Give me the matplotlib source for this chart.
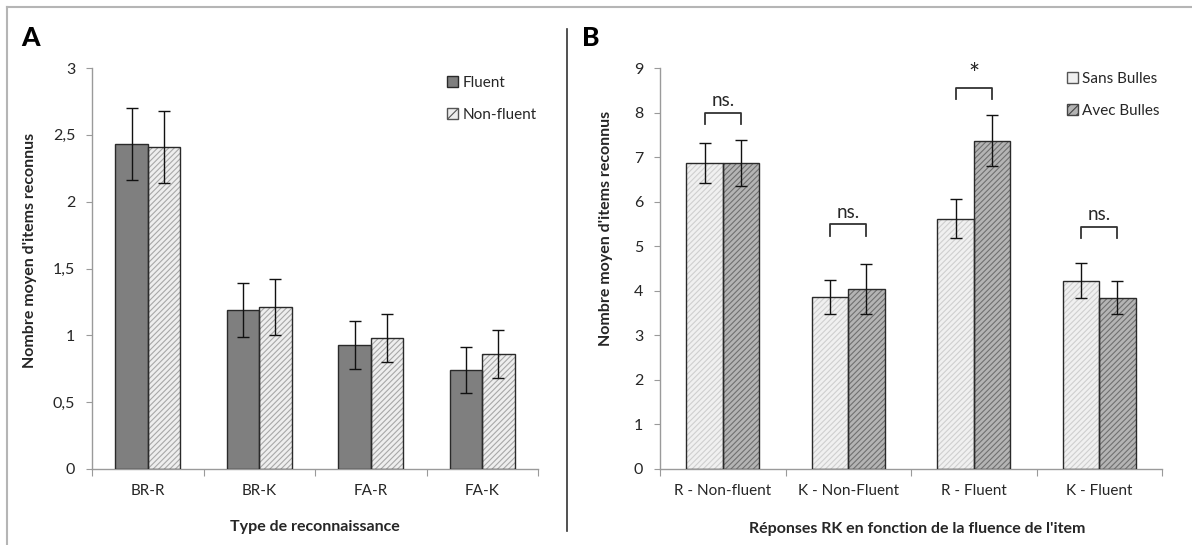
import numpy as np
import matplotlib
matplotlib.use("Agg")
from matplotlib import pyplot as plt
from matplotlib.patches import Patch
from matplotlib.lines import Line2D

plt.rcParams['font.family'] = ['Lato', 'DejaVu Sans']

# Panel A data
cats_a = ["BR-R", "BR-K", "FA-R", "FA-K"]
fluent = [2.43, 1.19, 0.93, 0.74]
fluent_err = [0.27, 0.20, 0.18, 0.17]
nonfluent = [2.41, 1.21, 0.98, 0.86]
nonfluent_err = [0.27, 0.21, 0.18, 0.18]
yticks_a = [0, 0.5, 1, 1.5, 2, 2.5, 3]
ylabels_a = ["0", "0,5", "1", "1,5", "2", "2,5", "3"]

# Panel B data
cats_b = ["R - Non-fluent", "K - Non-Fluent", "R - Fluent", "K - Fluent"]
sans = [6.87, 3.87, 5.62, 4.23]
sans_err = [0.45, 0.38, 0.44, 0.40]
avec = [6.87, 4.04, 7.37, 3.84]
avec_err = [0.52, 0.55, 0.57, 0.37]
sig_labels = ["ns.", "ns.", "*", "ns."]
sig_heights = [8.0, 5.49, 8.56, 5.43]

W, H = 1192, 545
fig = plt.figure(figsize=(W / 100, H / 100), dpi=100)

BW = 0.29
OFF = BW / 2
EDGE = "#2a2a2a"
SPINE = "#9a9a9a"
TXT = "#262626"


def hatched_bars(ax, x, vals, face, hcolor, hatch):
    # hatch colour comes from edgecolor, so draw the outline separately
    plt.rcParams['hatch.linewidth'] = 0.8
    ax.bar(x, vals, BW, color=face, edgecolor=hcolor, hatch=hatch, linewidth=0, zorder=2)
    ax.bar(x, vals, BW, facecolor="none", edgecolor=EDGE, linewidth=1.0, zorder=3)


def style_axis(ax, ncat, cats):
    ax.set_xlim(-0.5, ncat - 0.5)
    for s in ["top", "right"]:
        ax.spines[s].set_visible(False)
    for s in ["left", "bottom"]:
        ax.spines[s].set_color(SPINE)
        ax.spines[s].set_linewidth(1.0)
    ax.set_xticks(np.arange(-0.5, ncat, 1.0))
    ax.set_xticklabels([])
    ax.set_xticks(np.arange(ncat), minor=True)
    ax.set_xticklabels(cats, minor=True, fontsize=11, color=TXT)
    ax.tick_params(axis="x", which="major", direction="out", length=5, color=SPINE)
    ax.tick_params(axis="x", which="minor", length=0, pad=11)
    ax.tick_params(axis="y", direction="out", length=4, color=SPINE, pad=8,
                   labelsize=11.5, labelcolor=TXT)


def errbars(ax, x, vals, err):
    ax.errorbar(x, vals, yerr=err, fmt="none", ecolor="#111111", elinewidth=1.0,
                capsize=4, capthick=1.0, zorder=4)


# ---- Panel A ----
axA = fig.add_axes([92 / W, 1 - 469 / H, 446 / W, 401 / H])
x = np.arange(len(cats_a))
axA.bar(x - OFF, fluent, BW, color="#7f7f7f", edgecolor=EDGE, linewidth=1.0, zorder=3)
hatched_bars(axA, x + OFF, nonfluent, "#eeeeee", "#a8a8a8", "//////")
errbars(axA, x - OFF, fluent, fluent_err)
errbars(axA, x + OFF, nonfluent, nonfluent_err)
axA.set_ylim(0, 3)
axA.set_yticks(yticks_a)
axA.set_yticklabels(ylabels_a)
style_axis(axA, len(cats_a), cats_a)
axA.set_ylabel("Nombre moyen d'items reconnus", fontsize=11.5, fontweight="bold", color=TXT)
axA.yaxis.set_label_coords(-0.123, 0.546)
axA.set_xlabel("Type de reconnaissance", fontsize=11.5, fontweight="bold", color=TXT)
axA.xaxis.set_label_coords(0.5, -0.127)

plt.rcParams['hatch.linewidth'] = 0.8
hA = [Patch(facecolor="#7f7f7f", edgecolor=EDGE, linewidth=1.0),
      Patch(facecolor="#eeeeee", edgecolor="#555555", hatch="///", linewidth=1.0)]
axA.legend(hA, ["Fluent", "Non-fluent"], loc="upper left",
           bbox_to_anchor=(447 / W, 1 - 76 / H), bbox_transform=fig.transFigure,
           frameon=False, fontsize=11, handlelength=0.7, handleheight=0.7,
           handletextpad=0.3, labelspacing=1.15, borderpad=0, borderaxespad=0,
           labelcolor=TXT)

# ---- Panel B ----
axB = fig.add_axes([660 / W, 1 - 469 / H, 502 / W, 401 / H])
x = np.arange(len(cats_b))
hatched_bars(axB, x - OFF, sans, "#f0f0f0", "#cfcfcf", "//////")
hatched_bars(axB, x + OFF, avec, "#b4b4b4", "#707070", "//////")
errbars(axB, x - OFF, sans, sans_err)
errbars(axB, x + OFF, avec, avec_err)
axB.set_ylim(0, 9)
axB.set_yticks(range(0, 10))
style_axis(axB, len(cats_b), cats_b)
axB.set_ylabel("Nombre moyen d'items reconnus", fontsize=11.5, fontweight="bold", color=TXT)
axB.yaxis.set_label_coords(-0.094, 0.60)
axB.set_xlabel("Réponses RK en fonction de la fluence de l'item", fontsize=11.5,
               fontweight="bold", color=TXT)
axB.xaxis.set_label_coords(0.512, -0.132)

for i, (lab, h) in enumerate(zip(sig_labels, sig_heights)):
    axB.plot([i - OFF, i - OFF, i + OFF, i + OFF], [h - 0.25, h, h, h - 0.25],
             color="#333333", lw=1.3, zorder=5)
    if lab == "*":
        axB.text(i, h - 0.02, lab, ha="center", va="bottom", fontsize=19, color=TXT)
    else:
        axB.text(i, h + 0.08, lab, ha="center", va="bottom", fontsize=13.5, color=TXT)

hB = [Patch(facecolor="#f0f0f0", edgecolor="#555555", linewidth=1.0),
      Patch(facecolor="#b4b4b4", edgecolor="#444444", hatch="////", linewidth=1.0)]
axB.legend(hB, ["Sans Bulles", "Avec Bulles"], loc="upper left",
           bbox_to_anchor=(1067 / W, 1 - 72 / H), bbox_transform=fig.transFigure,
           frameon=False, fontsize=11, handlelength=0.7, handleheight=0.7,
           handletextpad=0.3, labelspacing=1.15, borderpad=0, borderaxespad=0,
           labelcolor=TXT)

# panel letters, divider and border
fig.text(30 / W, 1 - 38 / H, "A", fontsize=19, fontweight="black", ha="center", va="center")
fig.text(591 / W, 1 - 38 / H, "B", fontsize=19, fontweight="black", ha="center", va="center")
fig.add_artist(Line2D([567 / W, 567 / W], [1 - 29 / H, 1 - 531 / H], color="#333333", lw=1.2))
fig.add_artist(Line2D([7 / W, 1], [1 - 7 / H, 1 - 7 / H], color="#b5b5b5", lw=1.5))
fig.add_artist(Line2D([7 / W, 7 / W], [0, 1 - 7 / H], color="#b5b5b5", lw=1.5))

fig.savefig("out.png", dpi=100)
